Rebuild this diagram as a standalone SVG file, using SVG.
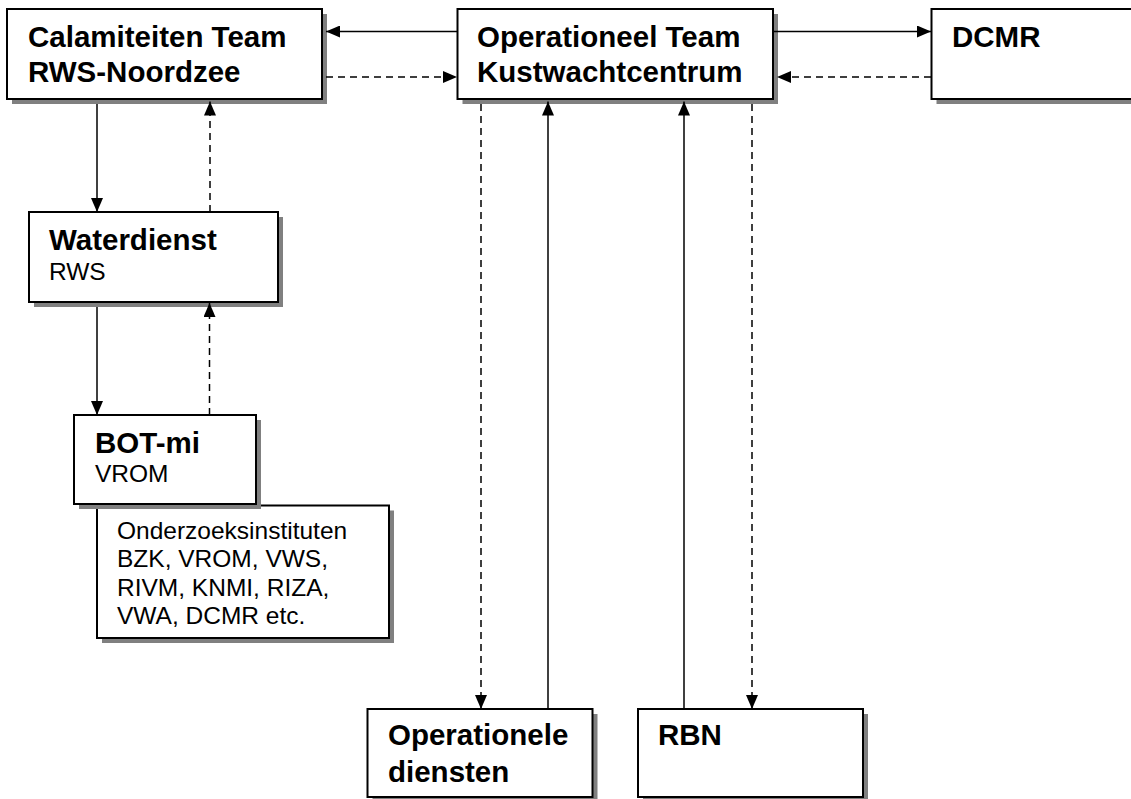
<svg xmlns="http://www.w3.org/2000/svg" width="1131" height="799" viewBox="0 0 1131 799">
<style>
.box{fill:#fff;stroke:#000;stroke-width:2}
.sh{fill:#808080;stroke:none}
.b{font-family:"Liberation Sans",Arial,sans-serif;font-weight:bold;font-size:29.5px;fill:#000}
.r{font-family:"Liberation Sans",Arial,sans-serif;font-size:24.5px;fill:#000}
.ln{fill:none;stroke:#000;stroke-width:1.5}
.ds{stroke-dasharray:7,5}
</style>
<defs>
<marker id="ah" markerUnits="userSpaceOnUse" markerWidth="14" markerHeight="12" refX="14" refY="6" orient="auto">
<path d="M0,0 L14,6 L0,12 z" fill="#000"/>
</marker>
</defs>
<rect width="1131" height="799" fill="#fff"/>
<g id="calamiteiten">
<rect class="sh" x="12" y="14" width="315" height="90"/>
<rect class="box" x="7" y="9" width="315" height="90"/>
<text class="b" x="28" y="46.5">Calamiteiten Team</text>
<text class="b" x="28" y="81.5">RWS-Noordzee</text>
</g>
<g id="operationeel">
<rect class="sh" x="462.5" y="14" width="315.5" height="90"/>
<rect class="box" x="457.5" y="9" width="315.5" height="90"/>
<text class="b" x="477" y="46.5">Operationeel Team</text>
<text class="b" x="477" y="81.5">Kustwachtcentrum</text>
</g>
<g id="dcmr">
<rect class="sh" x="936.5" y="14" width="220" height="90"/>
<rect class="box" x="931.5" y="9" width="220" height="90"/>
<text class="b" x="952" y="46.5">DCMR</text>
</g>
<g id="waterdienst">
<rect class="sh" x="34" y="217" width="249" height="90"/>
<rect class="box" x="29" y="212" width="249" height="90"/>
<text class="b" x="49" y="249.5">Waterdienst</text>
<text class="r" x="49" y="280">RWS</text>
</g>
<g id="onderzoek">
<rect class="sh" x="102" y="510.5" width="292" height="132.5"/>
<rect class="box" x="97" y="505.5" width="292" height="132.5"/>
<text class="r" x="117" y="538.5">Onderzoeksinstituten</text>
<text class="r" x="117" y="567">BZK, VROM, VWS,</text>
<text class="r" x="117" y="595.5">RIVM, KNMI, RIZA,</text>
<text class="r" x="117" y="624">VWA, DCMR etc.</text>
</g>
<g id="botmi">
<rect class="sh" x="79" y="420" width="182" height="89"/>
<rect class="box" x="74" y="415" width="182" height="89"/>
<text class="b" x="95" y="452.5">BOT-mi</text>
<text class="r" x="95" y="482">VROM</text>
</g>
<g id="operationele">
<rect class="sh" x="372.5" y="714" width="225" height="90"/>
<rect class="box" x="367.5" y="709" width="225" height="88"/>
<text class="b" x="388" y="745">Operationele</text>
<text class="b" x="388" y="781.5">diensten</text>
</g>
<g id="rbn">
<rect class="sh" x="643" y="714" width="225" height="90"/>
<rect class="box" x="638" y="709" width="225" height="88"/>
<text class="b" x="658" y="745">RBN</text>
</g>
<g id="connectors">
<line class="ln" x1="457" y1="31.5" x2="326" y2="31.5" marker-end="url(#ah)"/>
<line class="ln ds" x1="326" y1="77" x2="457" y2="77" marker-end="url(#ah)"/>
<line class="ln" x1="773" y1="31.5" x2="931" y2="31.5" marker-end="url(#ah)"/>
<line class="ln ds" x1="931" y1="77" x2="777" y2="77" marker-end="url(#ah)"/>
<line class="ln" x1="97" y1="104" x2="97" y2="212" marker-end="url(#ah)"/>
<line class="ln ds" x1="210" y1="212" x2="210" y2="101.5" marker-end="url(#ah)"/>
<line class="ln" x1="97" y1="307" x2="97" y2="415" marker-end="url(#ah)"/>
<line class="ln ds" x1="209.5" y1="415" x2="209.5" y2="303" marker-end="url(#ah)"/>
<line class="ln ds" x1="481" y1="104" x2="481" y2="709" marker-end="url(#ah)"/>
<line class="ln" x1="548" y1="709" x2="548" y2="101.5" marker-end="url(#ah)"/>
<line class="ln" x1="684" y1="709" x2="684" y2="101.5" marker-end="url(#ah)"/>
<line class="ln ds" x1="752" y1="104" x2="752" y2="709" marker-end="url(#ah)"/>
</g>
</svg>
